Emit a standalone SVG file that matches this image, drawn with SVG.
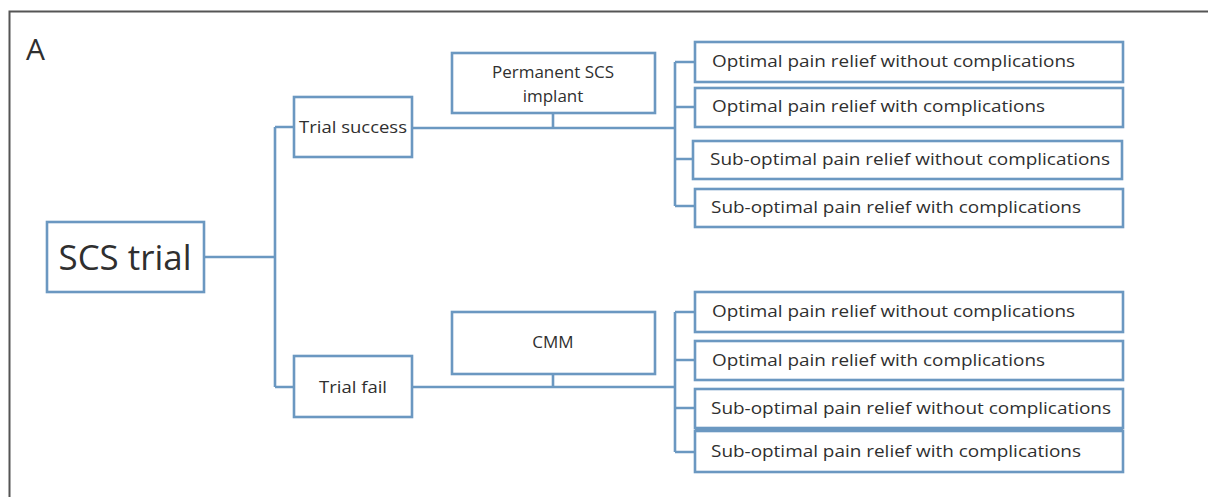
<svg xmlns="http://www.w3.org/2000/svg" width="1208" height="497" viewBox="0 0 1208 497">
<style>
.box{fill:#fff;stroke:#6b98c1;stroke-width:2.6}
.ln{fill:none;stroke:#6b98c1;stroke-width:2.6}
.t{font-family:"Open Sans","Liberation Sans",sans-serif;fill:#2f2f2f}
.s{font-size:17px}
.m{text-anchor:middle}
</style>
<rect x="0" y="0" width="1208" height="497" fill="#fff"/>
<path d="M9.5,497 V11.5 H1208" fill="none" stroke="#555" stroke-width="2"/>
<text class="t" x="26" y="60" font-size="30" fill="#111">A</text>
<g id="connectors">
<path class="ln" d="M204,257 H275 M275,127 V387 M275,127 H294 M275,387 H294"/>
<path class="ln" d="M412,128 H675 M553,113 V128 M675,62 V206 M675,62 H695 M675,107 H695 M675,159 H693 M675,206 H695"/>
<path class="ln" d="M412,387 H675 M553,374 V387 M675,312 V452 M675,312 H695 M675,360 H695 M675,408 H695 M675,452 H695"/>
</g>
<g id="scs-trial"><rect class="box" x="47" y="222" width="157" height="70"/><text class="t m" x="125" y="270" font-size="35" textLength="133" lengthAdjust="spacingAndGlyphs">SCS trial</text></g>
<g id="trial-success"><rect class="box" x="294" y="97" width="118" height="60"/><text class="t m" font-size="16.5" x="353" y="133" textLength="108" lengthAdjust="spacingAndGlyphs">Trial success</text></g>
<g id="trial-fail"><rect class="box" x="294" y="356" width="118" height="61"/><text class="t m" font-size="16.5" x="353" y="393" textLength="68" lengthAdjust="spacingAndGlyphs">Trial fail</text></g>
<g id="permanent"><rect class="box" x="452" y="53" width="203" height="60"/><text class="t m" font-size="17" x="553" y="78">Permanent SCS</text><text class="t m" font-size="17" x="553" y="102">implant</text></g>
<g id="cmm"><rect class="box" x="452" y="312" width="203" height="62"/><text class="t m" font-size="17" x="553" y="348">CMM</text></g>
<g id="s1"><rect class="box" x="695" y="42" width="428" height="40"/><text class="t s" x="712" y="67" textLength="363" lengthAdjust="spacingAndGlyphs">Optimal pain relief without complications</text></g>
<g id="s2"><rect class="box" x="695" y="88" width="428" height="39"/><text class="t s" x="712" y="112" textLength="333" lengthAdjust="spacingAndGlyphs">Optimal pain relief with complications</text></g>
<g id="s3"><rect class="box" x="693" y="141" width="429" height="38"/><text class="t s" x="710" y="165" textLength="400" lengthAdjust="spacingAndGlyphs">Sub-optimal pain relief without complications</text></g>
<g id="s4"><rect class="box" x="695" y="189" width="428" height="38"/><text class="t s" x="711" y="213" textLength="370" lengthAdjust="spacingAndGlyphs">Sub-optimal pain relief with complications</text></g>
<g id="f1"><rect class="box" x="695" y="292" width="428" height="40"/><text class="t s" x="712" y="317" textLength="363" lengthAdjust="spacingAndGlyphs">Optimal pain relief without complications</text></g>
<g id="f2"><rect class="box" x="695" y="341" width="428" height="39"/><text class="t s" x="712" y="366" textLength="333" lengthAdjust="spacingAndGlyphs">Optimal pain relief with complications</text></g>
<g id="f3"><rect class="box" x="695" y="389" width="428" height="39"/><text class="t s" x="711" y="414" textLength="400" lengthAdjust="spacingAndGlyphs">Sub-optimal pain relief without complications</text></g>
<g id="f4"><rect class="box" x="695" y="431" width="428" height="41"/><line x1="695" y1="430" x2="1123" y2="430" stroke="#6b98c1" stroke-width="4"/><text class="t s" x="711" y="457" textLength="370" lengthAdjust="spacingAndGlyphs">Sub-optimal pain relief with complications</text></g>
</svg>
